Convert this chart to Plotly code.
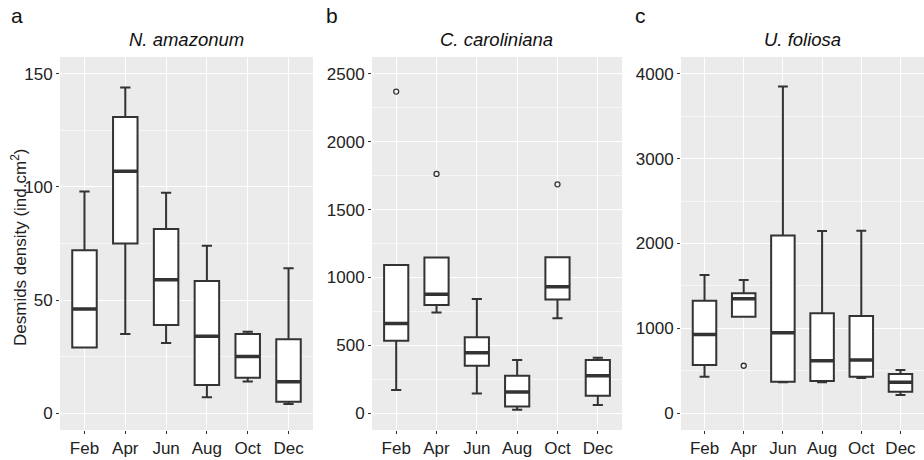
import plotly.graph_objects as go

months = ["Feb", "Apr", "Jun", "Aug", "Oct", "Dec"]

# Panel a: N. amazonum
a_low = [29, 35, 31, 7, 14, 4]
a_q1 = [29, 75, 39, 12.4, 15.6, 5]
a_med = [46, 107, 59, 34, 25, 13.8]
a_q3 = [72, 131, 81.4, 58.4, 35, 32.6]
a_high = [98, 144, 97.5, 74, 36, 64]
a_out_x = []
a_out_y = []

# Panel b: C. caroliniana
b_low = [170, 742, 145, 25, 698, 59]
b_q1 = [533, 797, 349, 49, 838, 128]
b_med = [661, 875, 445, 155, 932, 275]
b_q3 = [1091, 1146, 558, 275, 1148, 391]
b_high = [1091, 1146, 841, 391, 1148, 408]
b_out_x = ["Feb", "Apr", "Oct"]
b_out_y = [2370, 1763, 1686]

# Panel c: U. foliosa
c_low = [429, 1137, 362, 362, 413, 212]
c_q1 = [566, 1137, 370, 378, 429, 252]
c_med = [928, 1349, 948, 617, 625, 362]
c_q3 = [1325, 1412, 2093, 1176, 1145, 460]
c_high = [1628, 1569, 3851, 2148, 2151, 507]
c_out_x = ["Apr"]
c_out_y = [558]

titles = ["N. amazonum", "C. caroliniana", "U. foliosa"]
letters = ["a", "b", "c"]
y_ranges = [[-7.5, 157.5], [-125, 2625], [-200, 4200]]
y_dticks = [50, 500, 1000]

W, H = 924, 460
x_px = [(60, 313), (372, 622), (681, 924)]
y_top, y_bot = 57, 430

panels = [
    (a_low, a_q1, a_med, a_q3, a_high, a_out_x, a_out_y),
    (b_low, b_q1, b_med, b_q3, b_high, b_out_x, b_out_y),
    (c_low, c_q1, c_med, c_q3, c_high, c_out_x, c_out_y),
]

fig = go.Figure()
line_col = "#333333"
font_fam = "Liberation Sans, Arial, sans-serif"

for i, (low, q1, med, q3, high, ox, oy) in enumerate(panels):
    xa = "x" if i == 0 else f"x{i+1}"
    ya = "y" if i == 0 else f"y{i+1}"
    fig.add_trace(go.Box(
        x=months, q1=q1, median=med, q3=q3, lowerfence=low, upperfence=high,
        width=0.6, whiskerwidth=0.42, fillcolor="white",
        line=dict(color=line_col, width=2), boxpoints=False,
        xaxis=xa, yaxis=ya, showlegend=False, hoverinfo="skip"))
    # thick median line
    fig.add_trace(go.Box(
        x=months, q1=med, median=med, q3=med, lowerfence=med, upperfence=med,
        width=0.6, whiskerwidth=0.0, fillcolor="rgba(0,0,0,0)",
        line=dict(color=line_col, width=3.5), boxpoints=False,
        xaxis=xa, yaxis=ya, showlegend=False, hoverinfo="skip"))
    if ox:
        fig.add_trace(go.Scatter(
            x=ox, y=oy, mode="markers",
            marker=dict(symbol="circle-open", size=5, color=line_col,
                        line=dict(width=1.3, color=line_col)),
            xaxis=xa, yaxis=ya, showlegend=False, hoverinfo="skip"))

layout = dict(
    width=W, height=H, paper_bgcolor="white", plot_bgcolor="#EBEBEB",
    margin=dict(l=0, r=0, t=0, b=0), showlegend=False,
    font=dict(family=font_fam, color="#333333"),
)
annotations = []
for i in range(3):
    sx = "" if i == 0 else str(i + 1)
    x0, x1 = x_px[i]
    layout["xaxis" + sx] = dict(
        domain=[x0 / W, x1 / W], anchor="y" + sx, type="category",
        categoryorder="array", categoryarray=months, range=[-0.6, 5.6],
        showgrid=True, gridcolor="white", gridwidth=1.4, zeroline=False,
        ticks="outside", ticklen=3, tickwidth=1, tickcolor=line_col,
        tickfont=dict(size=17, color="#222222"), showline=False, fixedrange=True)
    layout["yaxis" + sx] = dict(
        domain=[1 - y_bot / H, 1 - y_top / H], anchor="x" + sx,
        range=y_ranges[i], dtick=y_dticks[i], tick0=0,
        showgrid=True, gridcolor="white", gridwidth=1.4, zeroline=False,
        minor=dict(dtick=y_dticks[i] / 2, showgrid=True, gridcolor="#F7F7F7", gridwidth=0.7),
        ticks="outside", ticklen=3, tickwidth=1, tickcolor=line_col,
        tickfont=dict(size=17, color="#222222"), showline=False, fixedrange=True)
    annotations.append(dict(
        x=(x0 + x1) / 2 / W, y=1 - 40 / H, xref="paper", yref="paper",
        text=f"<i>{titles[i]}</i>", showarrow=False,
        font=dict(size=18.5, color="#111111"), xanchor="center", yanchor="middle"))
letter_x = [17, 332, 640]
for i in range(3):
    annotations.append(dict(
        x=letter_x[i] / W, y=1 - 15 / H, xref="paper", yref="paper",
        text=letters[i], showarrow=False,
        font=dict(size=21, color="#111111"), xanchor="center", yanchor="middle"))
annotations.append(dict(
    x=19 / W, y=1 - 248 / H, xref="paper", yref="paper",
    text="Desmids density (ind.cm<sup>2</sup>)", textangle=-90, showarrow=False,
    font=dict(size=17, color="#222222"), xanchor="center", yanchor="middle"))
layout["annotations"] = annotations
fig.update_layout(**layout)
fig.write_html("out.html", config={"displayModeBar": False},
               post_script="document.body.style.margin='0';document.body.style.overflow='hidden';")
